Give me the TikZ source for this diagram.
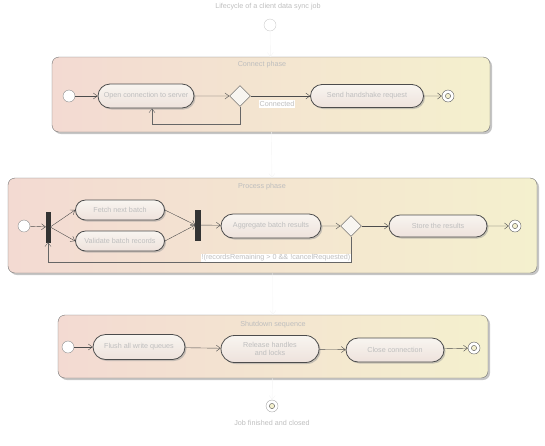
\documentclass[tikz,border=0pt]{standalone}
\usepackage{fontspec}
\setsansfont{Liberation Sans}
\usetikzlibrary{shapes.geometric,shapes.misc,arrows.meta,shadows}

\definecolor{grpleft}{RGB}{243,218,210}
\definecolor{grpright}{RGB}{244,240,206}
\definecolor{acttop}{RGB}{248,245,240}
\definecolor{actbottom}{RGB}{238,226,220}
\definecolor{txtgray}{RGB}{190,190,190}

\begin{document}
\begin{tikzpicture}[x=1pt,y=-1pt,
    every node/.style={font=\sffamily\fontsize{7.2}{8.2}\selectfont,text=txtgray},
    group/.style={draw=black!55,rounded corners=7pt,left color=grpleft,right color=grpright,
      drop shadow={shadow xshift=2pt,shadow yshift=-2pt,fill=black!45}},
    action/.style={rounded rectangle,draw=black!70,thick,top color=acttop,bottom color=actbottom,
      align=center,inner sep=1pt,
      drop shadow={shadow xshift=1.5pt,shadow yshift=-1.5pt,fill=black!40}},
    initial/.style={circle,draw=black!45,fill=white,minimum size=12pt,inner sep=0pt},
    final/.style={circle,draw=black!65,fill=white,minimum size=12pt,inner sep=0pt,
      path picture={\draw[black!70,fill=grpright] (path picture bounding box.center) circle[radius=2.6pt];}},
    choice/.style={diamond,draw=black!70,fill=acttop,minimum size=21pt,inner sep=0pt},
    bar/.style={fill=black!80,draw=black!80,inner sep=0pt,minimum width=4pt},
    guard/.style={fill=white,inner sep=1pt},
    flow/.style={draw=black!70,-{Straight Barb[length=4pt,width=6pt]}},
    faint/.style={draw=black!4,-{Straight Barb[length=4pt,width=6pt]}}
  ]
  \useasboundingbox (0,0) rectangle (545,445);

  % top of the job
  \node (title) at (268,7) {Lifecycle of a client data sync job};
  \node[initial,draw=black!20] (start) at (270,25) {};

  % connect phase
  \node[group,minimum width=438pt,minimum height=75pt] (g1) at (271,94.5) {};
  \node (g1title) at (262,65) {Connect phase};
  \node[initial] (s1) at (69,96) {};
  \node[action,minimum width=98pt,minimum height=24pt] (a11) at (146,96) {Open connection to server};
  \node[choice] (d1) at (240,96) {};
  \node[action,minimum width=115pt,minimum height=23pt] (a12) at (367,96) {Send handshake request};
  \node[final] (e1) at (448,96) {};
  \coordinate (l1) at (152,124);

  \draw[flow] (s1) -- (a11);
  \draw[flow] (a11) -- (d1);
  \draw[flow] (d1) -- (a12);
  \draw[flow] (a12) -- (e1);
  \draw[flow,draw=black!60] (d1.south) |- (l1) -- (l1 |- a11.south);
  \node[guard] (c1) at (277,104) {Connected};

  % process phase
  \node[group,minimum width=529pt,minimum height=95pt] (g2) at (272.5,225.5) {};
  \node (g2title) at (262,187) {Process phase};
  \node[initial] (s2) at (24,226) {};
  \node[bar,minimum height=30pt] (f1) at (48,227) {};
  \node[action,minimum width=91pt,minimum height=20pt] (b1) at (120,210) {Fetch next batch};
  \node[action,minimum width=91pt,minimum height=20pt] (b2) at (120,241) {Validate batch records};
  \node[bar,minimum height=30pt,minimum width=5pt] (f2) at (198,225) {};
  \node[action,minimum width=102pt,minimum height=24pt] (b3) at (271,226) {Aggregate batch results};
  \node[choice] (d2) at (351,226) {};
  \node[action,minimum width=100pt,minimum height=22pt] (b4) at (438,226) {Store the results};
  \node[final] (e2) at (515,226) {};
  \coordinate (l2) at (48,262);

  \draw[flow] (s2) -- (f1);
  \draw[flow] (f1.east) -- (b1.west);
  \draw[flow] (f1.east) -- (b2.west);
  \draw[flow] (b1.east) -- (f2.west);
  \draw[flow] (b2.east) -- (f2.west);
  \draw[flow] (f2) -- (b3);
  \draw[flow] (b3) -- (d2);
  \draw[flow] (d2) -- (b4);
  \draw[flow] (b4) -- (e2);
  \draw[flow,draw=black!60] (d2.south) |- (l2) -- (f1.south);
  \node[guard] (c2) at (276,258) {!(recordsRemaining > 0 \&\& !cancelRequested)};

  % shutdown phase
  \node[group,minimum width=430pt,minimum height=63pt] (g3) at (273,346.5) {};
  \node (g3title) at (273,325) {Shutdown sequence};
  \node[initial] (s3) at (68,347) {};
  \node[action,minimum width=94pt,minimum height=25pt] (c11) at (139,347) {Flush all write queues};
  \node[action,minimum width=100pt,minimum height=27pt] (c12) at (270,349) {Release handles\\and locks};
  \node[action,minimum width=100pt,minimum height=24pt] (c13) at (395,350) {Close connection};
  \node[final] (e3) at (474,348) {};

  \draw[flow] (s3) -- (c11);
  \draw[flow] (c11) -- (c12);
  \draw[flow] (c12) -- (c13);
  \draw[flow] (c13) -- (e3);

  % end of the job
  \node[final,draw=black!35] (stop) at (272,406) {};
  \node (caption) at (272,423) {Job finished and closed};

  \draw[faint] (start) -- (g1);
  \draw[faint] (g1) -- (g2);
  \draw[faint] (g2) -- (g3);
  \draw[faint] (g3) -- (stop);
\end{tikzpicture}
\end{document}
